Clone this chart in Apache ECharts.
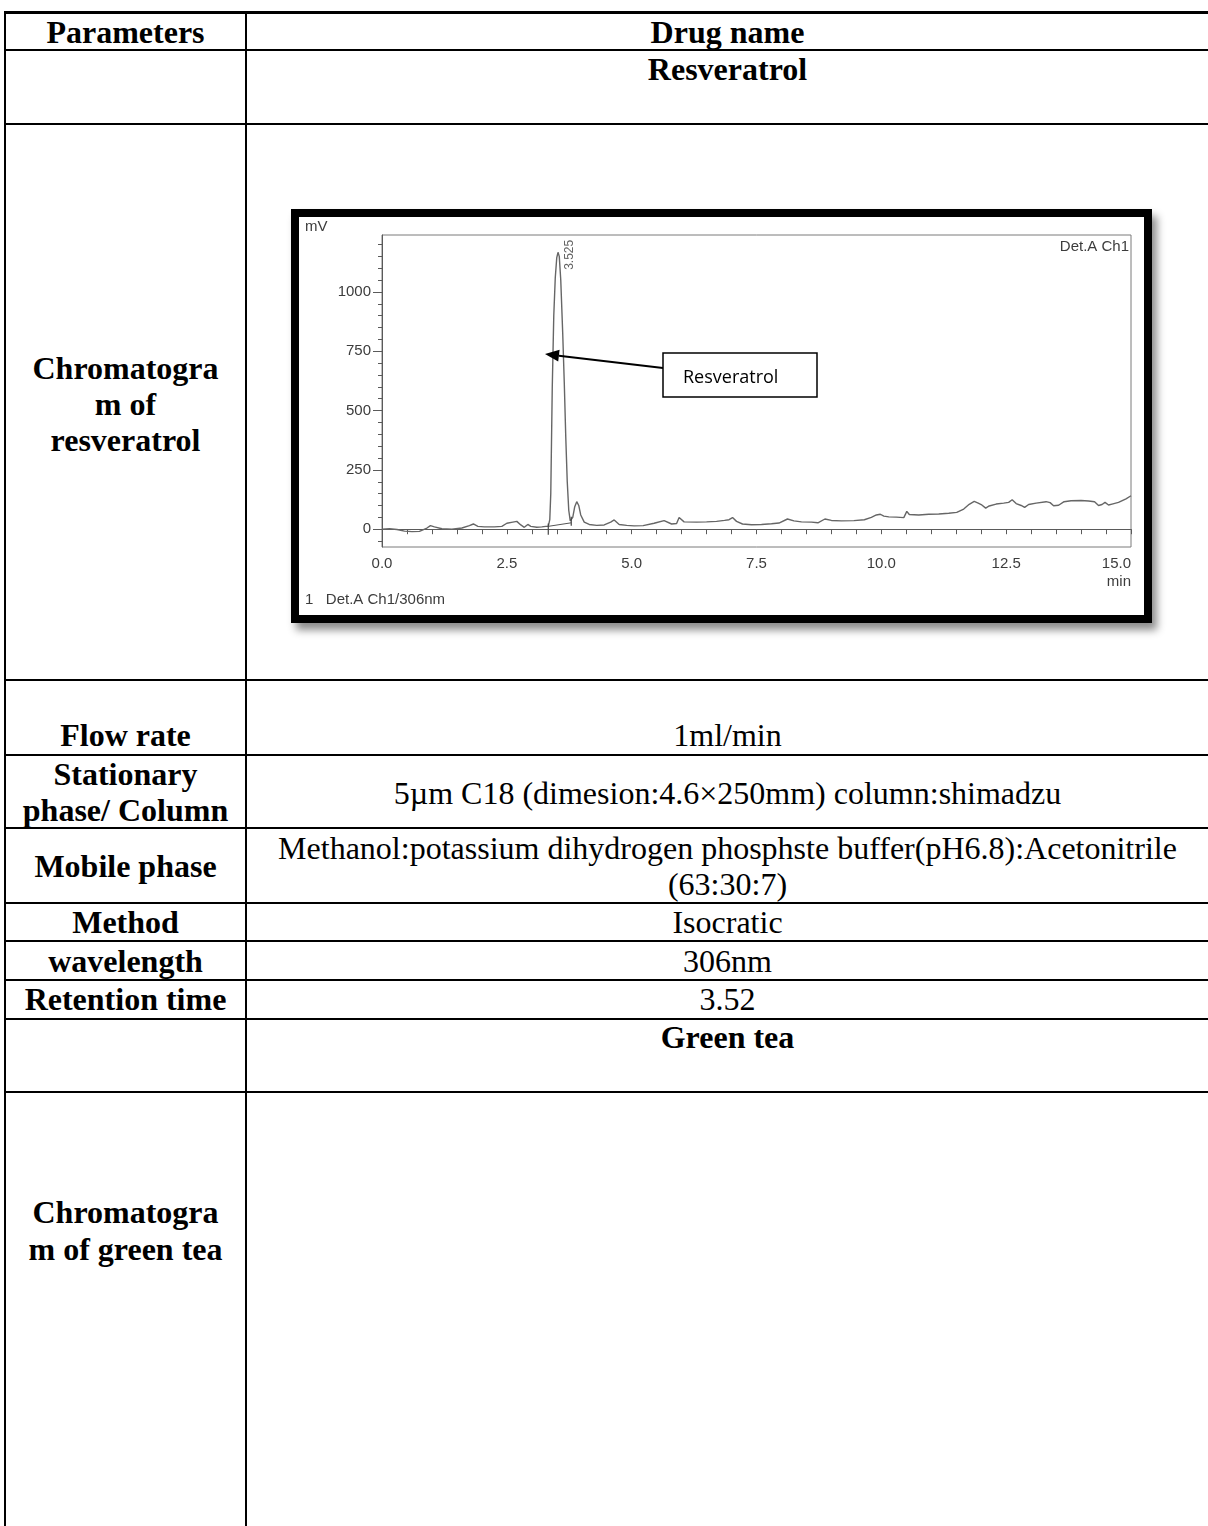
<!DOCTYPE html>
<html>
<head>
<meta charset="utf-8">
<script src="https://cdn.jsdelivr.net/npm/echarts@6/dist/echarts.min.js"></script>
<style>
  html, body { margin: 0; padding: 0; background: #fff; }
  #page { position: relative; width: 1208px; height: 1526px; overflow: hidden; background: #fff;
          font-family: "Liberation Serif", "Times New Roman", serif; color: #000; }
  .h { position: absolute; left: 4px; right: 0; height: 2px; background: #000; }
  .v { position: absolute; top: 11px; bottom: 0; width: 2px; background: #000; }
  .t { position: absolute; font-size: 32px; line-height: 36px; text-align: center; white-space: nowrap; }
  .c1 { left: 6px; width: 239px; }
  .c2 { left: 247px; width: 961px; }
  .b { font-weight: bold; }
  #frame { position: absolute; left: 291px; top: 209px; width: 861px; height: 414px; box-sizing: border-box;
           border: 8px solid #000; background: #fff; box-shadow: 5px 7px 8px rgba(0,0,0,0.45); }
  #chart { position: absolute; left: 0; top: 0; width: 845px; height: 398px; }
</style>
</head>
<body>
<div id="page">
  <!-- table rules -->
  <div class="h" style="top:11px;height:3px"></div>
  <div class="h" style="top:49px"></div>
  <div class="h" style="top:123px"></div>
  <div class="h" style="top:679px"></div>
  <div class="h" style="top:754px"></div>
  <div class="h" style="top:827px"></div>
  <div class="h" style="top:902px"></div>
  <div class="h" style="top:940px"></div>
  <div class="h" style="top:979px"></div>
  <div class="h" style="top:1018px"></div>
  <div class="h" style="top:1091px"></div>
  <div class="v" style="left:4px"></div>
  <div class="v" style="left:245px"></div>

  <!-- table text -->
  <div class="t c1 b" style="top:14px">Parameters</div>
  <div class="t c2 b" style="top:14px">Drug name</div>
  <div class="t c2 b" style="top:51px">Resveratrol</div>
  <div class="t c1 b" style="top:350px">Chromatogra<br>m of<br>resveratrol</div>
  <div class="t c1 b" style="top:717px">Flow rate</div>
  <div class="t c2" style="top:717px">1ml/min</div>
  <div class="t c1 b" style="top:756px">Stationary<br>phase/ Column</div>
  <div class="t c2" style="top:775px">5µm C18 (dimesion:4.6×250mm) column:shimadzu</div>
  <div class="t c1 b" style="top:848px">Mobile phase</div>
  <div class="t c2" style="top:830px">Methanol:potassium dihydrogen phosphste buffer(pH6.8):Acetonitrile<br>(63:30:7)</div>
  <div class="t c1 b" style="top:904px">Method</div>
  <div class="t c2" style="top:904px">Isocratic</div>
  <div class="t c1 b" style="top:943px">wavelength</div>
  <div class="t c2" style="top:943px">306nm</div>
  <div class="t c1 b" style="top:981px">Retention time</div>
  <div class="t c2" style="top:981px">3.52</div>
  <div class="t c2 b" style="top:1019px">Green tea</div>
  <div class="t c1 b" style="top:1194px;line-height:37px">Chromatogra<br>m of green tea</div>

  <div id="frame"><div id="chart"></div></div>
</div>

<script>
// Detector trace, Det.A Ch1 at 306 nm: retention time (min) and signal (mV)
const timeMin = [
  0.00, 0.15, 0.30, 0.45, 0.60, 0.75, 0.90, 0.97, 1.05, 1.20, 1.40, 1.60, 1.75, 1.83, 1.92,
  2.05, 2.25, 2.40, 2.50, 2.62, 2.70, 2.78, 2.85, 2.92, 2.98, 3.10, 3.20, 3.28, 3.33, 3.36,
  3.38, 3.41, 3.44, 3.47, 3.50, 3.525, 3.55, 3.58, 3.62, 3.65, 3.68, 3.71, 3.74, 3.77, 3.79,
  3.82, 3.86, 3.90, 3.94, 3.98, 4.05, 4.15, 4.30, 4.45, 4.58, 4.65, 4.75, 4.90, 5.05, 5.23,
  5.45, 5.65, 5.80, 5.90, 5.95, 6.05, 6.30, 6.50, 6.70, 6.86, 6.95, 7.02, 7.10, 7.22, 7.40,
  7.60, 7.80, 7.95, 8.12, 8.25, 8.40, 8.60, 8.73, 8.87, 9.00, 9.20, 9.45, 9.66, 9.80, 9.90,
  9.98, 10.05, 10.15, 10.30, 10.45, 10.51, 10.56, 10.75, 10.95, 11.15, 11.35, 11.51, 11.65, 11.76, 11.86,
  11.94, 12.00, 12.09, 12.16, 12.30, 12.45, 12.55, 12.62, 12.70, 12.80, 12.87, 12.95, 13.10, 13.30, 13.38,
  13.45, 13.55, 13.66, 13.80, 14.00, 14.15, 14.27, 14.35, 14.42, 14.48, 14.55, 14.62, 14.75, 14.90, 15.00
];
const signalMv = [
  0, 2, -1, -8, -10, -9, 5, 15, 10, 2, 0, 5, 15, 22, 12,
  10, 10, 12, 25, 30, 33, 18, 8, 20, 12, 8, 10, 12, 12, 40,
  150, 600, 900, 1060, 1145, 1167, 1150, 1050, 820, 620, 390, 200, 80, 35, 27,
  50, 95, 116, 100, 60, 30, 20, 16, 18, 30, 39, 20, 16, 14, 15,
  25, 36, 22, 24, 49, 31, 30, 31, 33, 37, 40, 49, 33, 22, 19,
  20, 23, 26, 43, 35, 31, 30, 27, 43, 37, 35, 36, 40, 50, 60,
  63, 55, 52, 51, 49, 75, 62, 60, 63, 64, 67, 71, 85, 105, 117,
  110, 104, 89, 98, 106, 110, 113, 124, 108, 100, 92, 104, 110, 116, 112,
  99, 101, 116, 120, 121, 119, 116, 100, 104, 113, 102, 106, 113, 128, 141
];

// Integrated peak: apex and the baseline drawn under it
const peakTime = 3.525;
const peakHeight = 1167;
const peakLabel = '3.525';
const baselineTime = [3.33, 3.79];
const baselineMv = [12, 27];

// Axis ticks
const xLabelValues = [0, 2.5, 5, 7.5, 10, 12.5, 15];
const yLabelValues = [0, 250, 500, 750, 1000];
const yMinorValues = [];
for (let v = -50; v <= 1200; v += 50) yMinorValues.push(v);

const axisGrey = '#5a5a5a';
const textGrey = '#3c3c3c';
const sans = '"Liberation Sans", Arial, sans-serif';

const chart = echarts.init(document.getElementById('chart'), null, { renderer: 'canvas' });

// Callout arrow geometry (chart pixel space)
const tip = [246, 137];
const tail = [364, 151];
const dx = tip[0] - tail[0], dy = tip[1] - tail[1];
const len = Math.hypot(dx, dy);
const ux = dx / len, uy = dy / len;
const headLen = 14, headHalf = 6;
const base = [tip[0] - ux * headLen, tip[1] - uy * headLen];
const head = [
  tip,
  [base[0] - uy * headHalf, base[1] + ux * headHalf],
  [base[0] + uy * headHalf, base[1] - ux * headHalf]
];

chart.setOption({
  animation: false,
  backgroundColor: '#fff',
  grid: { left: 83, right: 13, top: 18, bottom: 68, show: true, borderColor: '#7a7a7a', borderWidth: 1, backgroundColor: 'transparent' },
  xAxis: {
    type: 'value', min: 0, max: 15, interval: 0.5,
    axisLine: { lineStyle: { color: axisGrey, width: 1 } },
    axisTick: { show: true, inside: false, length: 5, lineStyle: { color: axisGrey } },
    axisLabel: {
      customValues: xLabelValues, margin: 9, color: textGrey, fontSize: 15, fontFamily: sans,
      formatter: v => v.toFixed(1), alignMaxLabel: 'right'
    },
    splitLine: { show: false }
  },
  yAxis: [
    {
      type: 'value', min: -75, max: 1240, position: 'left',
      axisLine: { show: true, lineStyle: { color: axisGrey, width: 1 } },
      axisTick: { show: true, customValues: yMinorValues, length: 4, lineStyle: { color: axisGrey } },
      axisLabel: { show: false },
      splitLine: { show: false }
    },
    {
      type: 'value', min: -75, max: 1240, position: 'left', offset: 0,
      axisLine: { show: false },
      axisTick: { show: true, customValues: yLabelValues, length: 9, lineStyle: { color: axisGrey } },
      axisLabel: {
        customValues: yLabelValues, margin: 11, color: textGrey, fontSize: 15, fontFamily: sans,
        formatter: v => String(v)
      },
      splitLine: { show: false }
    }
  ],
  series: [
    {
      type: 'line', name: 'Det.A Ch1',
      data: timeMin.map((t, i) => [t, signalMv[i]]),
      showSymbol: false, symbol: 'none',
      lineStyle: { color: '#666', width: 1.4 },
      z: 3
    },
    {
      type: 'line', name: 'baseline',
      data: baselineTime.map((t, i) => [t, baselineMv[i]]),
      showSymbol: false, symbol: 'none',
      lineStyle: { color: '#555', width: 1 },
      z: 2
    },
    {
      type: 'line', name: 'start mark',
      data: [[baselineTime[0], baselineMv[0] - 35], [baselineTime[0], baselineMv[0] + 12]],
      showSymbol: false, symbol: 'none',
      lineStyle: { color: '#444', width: 1.2 }
    },
    {
      type: 'line', name: 'end mark',
      data: [[baselineTime[1], baselineMv[1] - 12], [baselineTime[1], baselineMv[1] + 25]],
      showSymbol: false, symbol: 'none',
      lineStyle: { color: '#444', width: 1.2 }
    },
    {
      type: 'scatter', name: 'apex',
      data: [[peakTime, peakHeight]],
      symbolSize: 1, itemStyle: { color: 'transparent' },
      label: {
        show: true, formatter: peakLabel, rotate: 90, position: [12, 18],
        align: 'left', verticalAlign: 'middle',
        color: textGrey, fontSize: 12, fontFamily: sans
      },
      silent: true
    }
  ],
  graphic: [
    { type: 'text', left: 6, top: 2, style: { text: 'mV', fill: textGrey, font: '15px ' + sans } },
    { type: 'text', right: 15, top: 22, style: { text: 'Det.A Ch1', fill: textGrey, font: '15px ' + sans } },
    { type: 'text', right: 13, top: 357, style: { text: 'min', fill: textGrey, font: '15px ' + sans } },
    { type: 'text', left: 6, top: 375, style: { text: '1   Det.A Ch1/306nm', fill: textGrey, font: '15px ' + sans } },
    { type: 'line', shape: { x1: tail[0], y1: tail[1], x2: base[0], y2: base[1] }, style: { stroke: '#000', lineWidth: 2 }, z: 50 },
    { type: 'polygon', shape: { points: head }, style: { fill: '#000' }, z: 50 },
    { type: 'rect', shape: { x: 364, y: 136, width: 154, height: 44 }, style: { fill: '#fff', stroke: '#000', lineWidth: 1.5 }, z: 50 },
    { type: 'text', x: 384, y: 161, style: { text: 'Resveratrol', fill: '#000', font: '18px "Open Sans", sans-serif', verticalAlign: 'middle' }, z: 51 }
  ]
});
</script>
</body>
</html>
